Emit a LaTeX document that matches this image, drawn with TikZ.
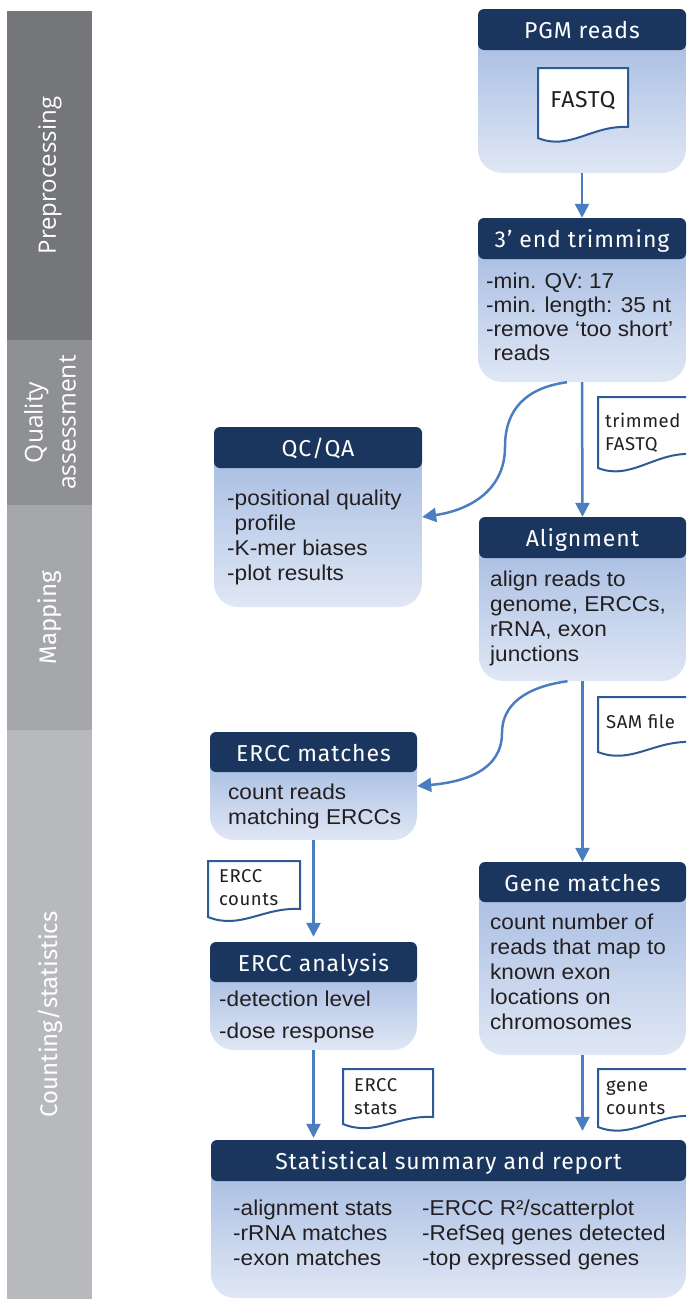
\documentclass[tikz,border=0pt]{standalone}
\usepackage{fontspec}
\setmainfont{Liberation Sans}[FakeStretch=1.05]
\newfontfamily\headf{Fira Sans}[LetterSpace=4]
\newfontfamily\docf{Fira Sans}[LetterSpace=3]
\newfontfamily\sidef{Open Sans}
\newfontfamily\sidecf{Fira Sans}
\usetikzlibrary{arrows.meta,fit}
\definecolor{navy}{HTML}{1B365E}
\definecolor{bodytop}{HTML}{AABFE3}
\definecolor{bodybot}{HTML}{E0E7F5}
\definecolor{arrowc}{HTML}{4A7EC1}
\definecolor{docc}{HTML}{2E5B95}
\definecolor{txt}{HTML}{231F20}
\definecolor{sideA}{HTML}{75767A}
\definecolor{sideB}{HTML}{8F9094}
\definecolor{sideC}{HTML}{A6A7AB}
\definecolor{sideD}{HTML}{B8B9BD}
\tikzset{
  headtext/.style={anchor=base, inner sep=0pt, text=white, font=\headf\fontsize{23}{27}\selectfont},
  bodytext/.style={anchor=base west, inner sep=0pt, align=left, text=txt, font=\fontsize{21.5}{25}\selectfont},
  doctext/.style={anchor=base west, inner sep=0pt, align=left, text=txt, font=\docf\fontsize{18.5}{22.5}\selectfont},
  docline/.style={draw=docc, line width=2pt, fill=white},
  sidetext/.style={inner sep=0pt, text=white, rotate=90, align=center},
  arr/.style={draw=arrowc, line width=2.5pt, -{Triangle[width=14pt,length=14pt]}},
}
\newcommand\flowbox[7]{%
  \begin{scope}
    \clip[rounded corners=24pt] (#2,#3) rectangle (#4,#6);
    \shade[top color=bodytop, bottom color=bodybot] (#2,{#5-8}) rectangle (#4,#6);
  \end{scope}
  \fill[navy, rounded corners=6pt] (#2,#3) rectangle (#4,#5);
  \node[fit={(#2,#3) (#4,#6)}, inner sep=0pt] (#1) {};
  \node[headtext] (#1h) at ({(#2+#4)/2},{(#3+#5)/2+9}) {#7};
}
\newcommand\docbox[6]{%
  \draw[docline] (#2,#3) -- (#4,#3) -- (#4,#5) .. controls ({#4-0.4*(#4-#2)},{#5-2}) and ({#2+0.35*(#4-#2)},{#6+13}) .. (#2,#6) -- cycle;
  \node[fit={(#2,#3) (#4,#6)}, inner sep=0pt] (#1) {};
}
\begin{document}
\begin{tikzpicture}[x=1pt, y=-1pt]
\useasboundingbox (0,0) rectangle (686,1299);
\clip (0,0) rectangle (686,1299);
% side bar
\fill[sideA] (7,11) rectangle (92,340);
\fill[sideB] (7,340) rectangle (92,505);
\fill[sideC] (7,505) rectangle (92,730);
\fill[sideD] (7,730) rectangle (92,1299);
\node[sidetext, font=\sidef\fontsize{24}{28}\selectfont] (sPre) at (50,175.5) {Preprocessing};
\node[sidetext, font=\sidef\fontsize{24.5}{33}\selectfont] (sQA) at (50,422.5) {Quality\\assessment};
\node[sidetext, font=\sidecf\fontsize{24}{28}\selectfont] (sMap) at (50,617.5) {Mapping};
\node[sidetext, font=\sidecf\fontsize{24}{28}\selectfont] (sCnt) at (50,1014.5) {Counting/statistics};
% boxes
\flowbox{pgm}{478}{9}{686}{50}{173}{PGM reads}
\flowbox{trim}{478}{218}{686}{259}{382}{3’ end trimming}
\flowbox{qc}{214}{427}{422}{468}{607}{QC/QA}
\flowbox{align}{479}{517}{686}{558}{681}{Alignment}
\flowbox{ercm}{210}{732}{417}{772}{840}{ERCC matches}
\flowbox{erca}{210}{942}{417}{982}{1050}{ERCC analysis}
\flowbox{gene}{479}{862}{686}{902}{1055}{Gene matches}
\flowbox{sum}{211}{1140}{686}{1181}{1298}{Statistical summary and report}
% body texts (anchored at the baseline of the last line)
\node[bodytext, font=\fontsize{21.5}{24}\selectfont] (trimt) at (486,360) {-min. QV: 17\\-min. length: 35 nt\\-remove ‘too short’\\\phantom{-}reads};
\node[bodytext] (qct) at (227,580) {-positional quality\\\phantom{-}profile\\-K-mer biases\\-plot results};
\node[bodytext] (alignt) at (490,661) {align reads to\\genome, ERCCs,\\rRNA, exon\\junctions};
\node[bodytext] (ercmt) at (228,824) {count reads\\matching ERCCs};
\node[bodytext, font=\fontsize{21.5}{32}\selectfont] (ercat) at (219,1038) {-detection level\\-dose response};
\node[bodytext] (genet) at (490,1029) {count number of\\reads that map to\\known exon\\locations on\\chromosomes};
\node[bodytext] (sumt1) at (233,1265) {-alignment stats\\-rRNA matches\\-exon matches};
\node[bodytext] (sumt2) at (422,1265) {-ERCC R²/scatterplot\\-RefSeq genes detected\\-top expressed genes};
% documents
\docbox{dfastq}{538}{68}{628}{127}{138}
\node[anchor=base, inner sep=0pt, text=txt, font=\docf\fontsize{23}{27}\selectfont] (dfastqt) at (583,107) {FASTQ};
\docbox{dtrim}{598}{397}{692}{454}{468}
\node[doctext] (dtrimt) at (605,450) {trimmed\\FASTQ};
\docbox{dsam}{598}{697}{692}{742}{752}
\node[doctext] (dsamt) at (606,728) {SAM file};
\docbox{dec}{208}{861}{300}{909}{917}
\node[doctext] (dect) at (219,905) {ERCC\\counts};
\docbox{des}{343}{1069}{433}{1117}{1124}
\node[doctext] (dest) at (354,1114) {ERCC\\stats};
\docbox{dgc}{598}{1069}{692}{1116}{1127}
\node[doctext] (dgct) at (606,1114) {gene\\counts};
% connectors
\draw[arr] (pgm.south) -- (trim.north);
\draw[arr] (trim.south) -- (align.north);
\draw[arr] ([xshift=-15pt]trim.south) .. controls (525,388) and (505,410) .. (505,447) .. controls (505,490) and (470,510) .. (qc.east);
\draw[arr] (align.south) -- (gene.north);
\draw[arr] ([xshift=-15pt]align.south) .. controls (525,687) and (502,705) .. (502,733) .. controls (502,770) and (465,782) .. (ercm.east);
\draw[arr, shorten >=5pt] (ercm.south) -- (erca.north);
\draw[arr, shorten >=2pt] (erca.south) -- (erca.south |- sum.north);
\draw[arr, shorten >=9pt] (gene.south) -- (gene.south |- sum.north);
\end{tikzpicture}
\end{document}
